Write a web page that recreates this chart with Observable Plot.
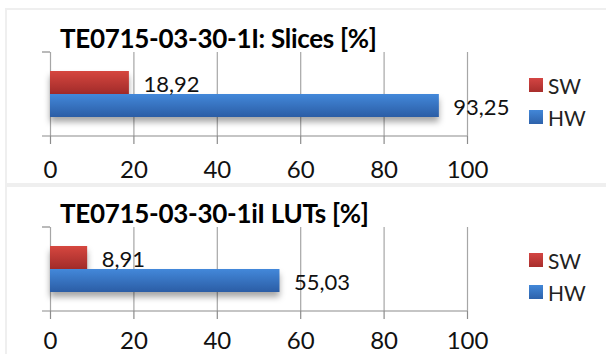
<!DOCTYPE html>
<html>
<head>
<meta charset="utf-8">
<script src="https://cdn.jsdelivr.net/npm/d3@7"></script>
<script src="https://cdn.jsdelivr.net/npm/@observablehq/plot@0.6"></script>
<style>
  html, body { margin: 0; padding: 0; background: #fff; }
  body { width: 606px; height: 354px; position: relative; overflow: hidden; font-family: Lato, "Open Sans", sans-serif; }
  .abs { position: absolute; }
  .border { position: absolute; background: #efefef; }
  .title { position: absolute; font-weight: bold; font-size: 26px; line-height: 1; color: #000; white-space: nowrap; letter-spacing: -0.3px; }
  .leg { position: absolute; font-size: 21px; line-height: 1; color: #222; white-space: nowrap; }
  .sw { position: absolute; width: 14px; height: 14px; }
  svg g[aria-label="bar"] { filter: drop-shadow(0px 5px 3px rgba(0,0,0,0.35)); }
</style>
</head>
<body>
<script>
// ---- data ----
const series = ["SW", "HW"];
const slicesValues = [18.92, 93.25];
const lutsValues = [8.91, 55.03];
const titles = ["TE0715-03-30-1I: Slices [%]", "TE0715-03-30-1iI LUTs [%]"];
const xTicks = [0, 20, 40, 60, 80, 100];

const fills = { SW: "url(#gradSW)", HW: "url(#gradHW)" };
const legendFills = {
  SW: "linear-gradient(#d44543, #a82e2c)",
  HW: "linear-gradient(#4287d8, #2d62ab)"
};

// borders
function border(l, t, w, h) {
  const d = document.createElement("div");
  d.className = "border";
  Object.assign(d.style, { left: l + "px", top: t + "px", width: w + "px", height: h + "px" });
  document.body.appendChild(d);
}
border(5, 8, 601, 2);
border(5, 8, 2, 346);
border(5, 183, 601, 4);

function makePanel(values, title, top, height, marginTop, marginBottom, titleTop, legendTop, tickPadding) {
  const data = series.map((s, i) => ({ series: s, value: values[i] }));
  const frameDeco = (index, scales, vals, dims) => {
    const g = d3.create("svg:g").attr("stroke", "#8c8c8c").attr("stroke-width", 1.2);
    const l = dims.marginLeft, r = dims.width - dims.marginRight;
    const t = dims.marginTop, b = dims.height - dims.marginBottom;
    g.append("line").attr("x1", l - 8).attr("x2", r).attr("y1", b).attr("y2", b);
    g.append("line").attr("x1", l - 8).attr("x2", l).attr("y1", t).attr("y2", t);
    return g.node();
  };
  const svg = Plot.plot({
    width: 606,
    height,
    marginLeft: 50,
    marginRight: 139,
    marginTop,
    marginBottom,
    style: { fontFamily: "Lato, 'Open Sans', sans-serif", background: "transparent", overflow: "visible" },
    x: { domain: [0, 100], ticks: xTicks, label: null },
    y: { domain: series, paddingInner: 0, paddingOuter: 0.787, axis: null, label: null },
    marks: [
      Plot.gridX(xTicks, { stroke: "#a6a6a6", strokeOpacity: 1, strokeWidth: 1.2 }),
      Plot.axisX(xTicks, { tickSize: 8, tickPadding, fontSize: 24, stroke: "#8c8c8c", strokeWidth: 1.2, fill: "#111", label: null }),
      frameDeco,
      Plot.barX(data.filter(d => d.series === "SW"), { x: "value", y: "series", fill: fills.SW }),
      Plot.barX(data.filter(d => d.series === "HW"), { x: "value", y: "series", fill: fills.HW }),
      Plot.text(data, { x: "value", y: "series", text: d => d.value.toFixed(2).replace(".", ","), textAnchor: "start", dx: 14, dy: 2, fontSize: 22, fill: "#111" })
    ]
  });
  const defs = d3.select(svg).insert("defs", ":first-child");
  const g1 = defs.append("linearGradient").attr("id", "gradSW").attr("x1", 0).attr("x2", 0).attr("y1", 0).attr("y2", 1);
  g1.append("stop").attr("offset", "0%").attr("stop-color", "#d6473f");
  g1.append("stop").attr("offset", "100%").attr("stop-color", "#a12b2a");
  const g2 = defs.append("linearGradient").attr("id", "gradHW").attr("x1", 0).attr("x2", 0).attr("y1", 0).attr("y2", 1);
  g2.append("stop").attr("offset", "0%").attr("stop-color", "#4388da");
  g2.append("stop").attr("offset", "100%").attr("stop-color", "#2b5da5");
  svg.classList.add("abs");
  svg.style.left = "0px";
  svg.style.top = top + "px";
  document.body.appendChild(svg);

  const t = document.createElement("div");
  t.className = "title";
  t.textContent = title;
  t.style.left = "60px";
  t.style.top = titleTop + "px";
  document.body.appendChild(t);

  series.forEach((s, i) => {
    const sq = document.createElement("div");
    sq.className = "sw";
    sq.style.background = legendFills[s];
    sq.style.left = "529px";
    sq.style.top = (legendTop + i * 32) + "px";
    document.body.appendChild(sq);
    const lab = document.createElement("div");
    lab.className = "leg";
    lab.textContent = s;
    lab.style.left = "548px";
    lab.style.top = (legendTop + i * 32 - 3) + "px";
    document.body.appendChild(lab);
  });
}

makePanel(slicesValues, titles[0], 0, 183, 52, 47, 25, 78, 16);
makePanel(lutsValues, titles[1], 187, 167, 40, 43, 200, 253, 12);
</script>
</body>
</html>
